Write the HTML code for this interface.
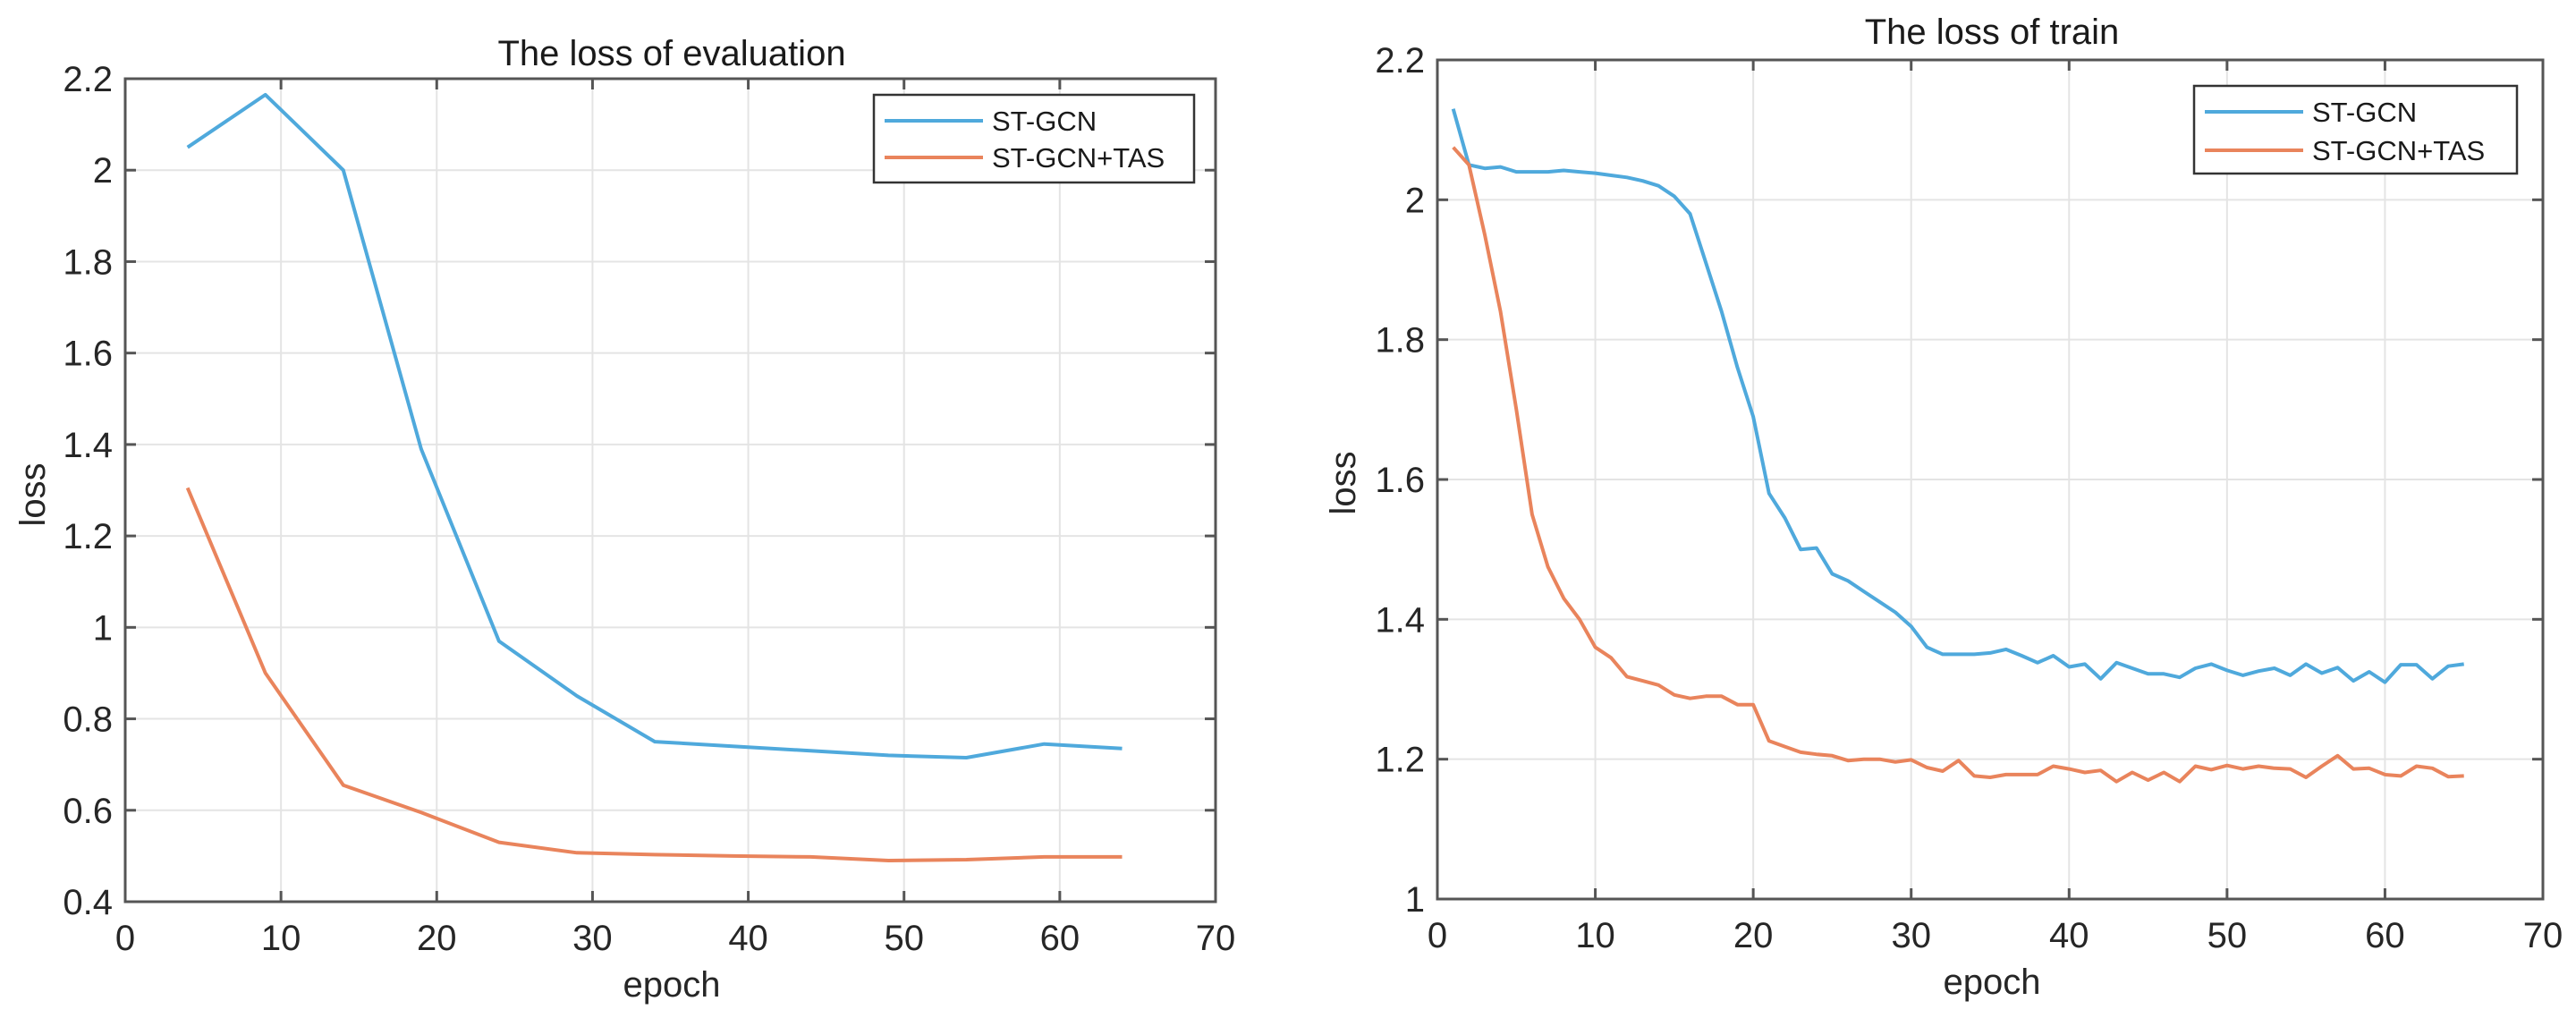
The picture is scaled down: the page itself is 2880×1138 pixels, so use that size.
<!DOCTYPE html>
<html><head><meta charset="utf-8"><style>
html,body{margin:0;padding:0;background:#fff;}
svg{display:block;font-family:"Liberation Sans",Arial,sans-serif;}
</style></head><body>
<svg id="fig" width="2880" height="1138" viewBox="0 0 2880 1138" xmlns="http://www.w3.org/2000/svg"></svg>
<script>
// ---- Eval chart data ----
const evalEpochs = [4,9,14,19,24,29,34,39,44,49,54,59,64];
const evalStgcn = [2.05,2.165,2.0,1.39,0.97,0.85,0.75,0.74,0.73,0.72,0.715,0.745,0.735];
const evalTas = [1.305,0.90,0.655,0.595,0.53,0.507,0.503,0.5,0.498,0.49,0.492,0.498,0.498];
const evalYTicks = [0.4,0.6,0.8,1,1.2,1.4,1.6,1.8,2,2.2];
const evalYLabels = ["0.4","0.6","0.8","1","1.2","1.4","1.6","1.8","2","2.2"];
// ---- Train chart data ----
const trainEpochs = [1,2,3,4,5,6,7,8,9,10,11,12,13,14,15,16,17,18,19,20,21,22,23,24,25,26,27,28,29,30,31,32,33,34,35,36,37,38,39,40,41,42,43,44,45,46,47,48,49,50,51,52,53,54,55,56,57,58,59,60,61,62,63,64,65];
const trainStgcn = [2.13,2.05,2.045,2.047,2.04,2.04,2.04,2.042,2.04,2.038,2.035,2.032,2.027,2.02,2.005,1.98,1.91,1.84,1.76,1.69,1.58,1.545,1.50,1.502,1.465,1.455,1.44,1.425,1.41,1.39,1.36,1.35,1.35,1.35,1.352,1.357,1.348,1.338,1.348,1.332,1.336,1.315,1.338,1.33,1.322,1.322,1.317,1.33,1.336,1.327,1.32,1.326,1.33,1.32,1.336,1.323,1.331,1.312,1.325,1.31,1.335,1.335,1.315,1.333,1.336];
const trainTas = [2.075,2.05,1.95,1.84,1.70,1.55,1.475,1.43,1.40,1.36,1.345,1.318,1.312,1.306,1.292,1.287,1.29,1.29,1.278,1.278,1.226,1.218,1.21,1.207,1.205,1.198,1.2,1.2,1.196,1.199,1.188,1.183,1.198,1.176,1.174,1.178,1.178,1.178,1.19,1.186,1.181,1.184,1.168,1.181,1.17,1.181,1.168,1.19,1.185,1.191,1.186,1.19,1.187,1.186,1.174,1.19,1.205,1.186,1.187,1.178,1.176,1.19,1.187,1.175,1.176];
const trainYTicks = [1,1.2,1.4,1.6,1.8,2,2.2];
const trainYLabels = ["1","1.2","1.4","1.6","1.8","2","2.2"];
const xTicks = [0,10,20,30,40,50,60,70];
const xLabels = ["0","10","20","30","40","50","60","70"];
const seriesNames = ["ST-GCN","ST-GCN+TAS"];

const NS="http://www.w3.org/2000/svg";
const svg=document.getElementById('fig');
function mk(tag,attrs,parent){const e=document.createElementNS(NS,tag);for(const k in attrs)e.setAttribute(k,attrs[k]);(parent||svg).appendChild(e);return e;}

function chart(o){
  const g=mk('g',{});
  
  
  const sx=v=>o.L+(v-0)/(70-0)*(o.R-o.L);
  const sy=v=>o.B-(v-o.ymin)/(o.ymax-o.ymin)*(o.B-o.T);
  // grid
  o.yt.forEach((v,i)=>{
    const y=sy(v);
    const gl=mk('line',{x1:o.L,x2:o.R,y1:y,y2:y,stroke:'#e4e4e4','stroke-width':2},g);
    
    
    const tk=mk('line',{x1:o.L,x2:o.L+12,y1:y,y2:y,stroke:'#555','stroke-width':3},g);
    
    
    const tk2=mk('line',{x1:o.R,x2:o.R-12,y1:y,y2:y,stroke:'#555','stroke-width':3},g);
    
    
    const t=mk('text',{x:o.L-14,y:y+14,'text-anchor':'end','font-size':40,fill:'#262626'},g);
    t.textContent=o.yl[i];
    
    
  });
  xTicks.forEach((v,i)=>{
    const x=sx(v);
    const gl=mk('line',{x1:x,x2:x,y1:o.T,y2:o.B,stroke:'#e4e4e4','stroke-width':2},g);
    
    
    const tk=mk('line',{x1:x,x2:x,y1:o.B,y2:o.B-12,stroke:'#555','stroke-width':3},g);
    
    
    const tk2=mk('line',{x1:x,x2:x,y1:o.T,y2:o.T+12,stroke:'#555','stroke-width':3},g);
    
    
    const t=mk('text',{x:x,y:o.B+54,'text-anchor':'middle','font-size':40,fill:'#262626'},g);
    t.textContent=xLabels[i];
    
    
  });
  // series
  const cols=['#4fa9dc','#e9845c'];
  [o.s1,o.s2].forEach((s,k)=>{
    const pts=o.xs.map((x,i)=>sx(x).toFixed(1)+','+sy(s[i]).toFixed(1)).join(' ');
    const p=mk('polyline',{points:pts,fill:'none',stroke:cols[k],'stroke-width':4,'stroke-linejoin':'round'},g);
    
    
  });
  // box
  const bx=mk('rect',{x:o.L,y:o.T,width:o.R-o.L,height:o.B-o.T,fill:'none',stroke:'#555','stroke-width':3},g);
  
  
  // legend
  const lg=mk('g',{},g);
  
  
  mk('rect',{x:o.lg.x,y:o.lg.y,width:o.lg.w,height:o.lg.h,fill:'#fff',stroke:'#333','stroke-width':2.5},lg);
  seriesNames.forEach((n,k)=>{
    const yy=o.lg.y+(k===0?o.lg.r1:o.lg.r2);
    const le=mk('g',{},lg);
    
    
    mk('line',{x1:o.lg.x+12,x2:o.lg.x+122,y1:yy,y2:yy,stroke:cols[k],'stroke-width':4},le);
    const t=mk('text',{x:o.lg.x+132,y:yy+11,'font-size':31,fill:'#1a1a1a'},le);
    t.textContent=n;
  });
  const tt=mk('text',{x:o.tx,y:o.ty+14,'text-anchor':'middle','font-size':40,fill:'#1a1a1a'},g);
  tt.textContent=o.title;
  
  
  const xl=mk('text',{x:o.tx,y:o.xly+14,'text-anchor':'middle','font-size':40,fill:'#262626'},g);
  xl.textContent='epoch';
  
  
  const yl=mk('text',{x:0,y:0,'text-anchor':'middle','font-size':40,fill:'#262626',transform:`translate(${o.ylx+14},${o.yly}) rotate(-90)`},g);
  yl.textContent='loss';
  
  
}

chart({name:'eval-loss-chart',L:140,R:1359,T:88,B:1008,ymin:0.4,ymax:2.2,yt:evalYTicks,yl:evalYLabels,
  xs:evalEpochs,s1:evalStgcn,s2:evalTas,title:'The loss of evaluation',tx:751,ty:59,xly:1100,ylx:36,yly:553,
  lg:{x:977,y:106,w:358,h:98,r1:29,r2:70}});
chart({name:'train-loss-chart',L:1607,R:2843,T:67,B:1005,ymin:1,ymax:2.2,yt:trainYTicks,yl:trainYLabels,
  xs:trainEpochs,s1:trainStgcn,s2:trainTas,title:'The loss of train',tx:2227,ty:35,xly:1097,ylx:1501,yly:540,
  lg:{x:2453,y:96,w:361,h:98,r1:29,r2:72}});
</script>
</body></html>
